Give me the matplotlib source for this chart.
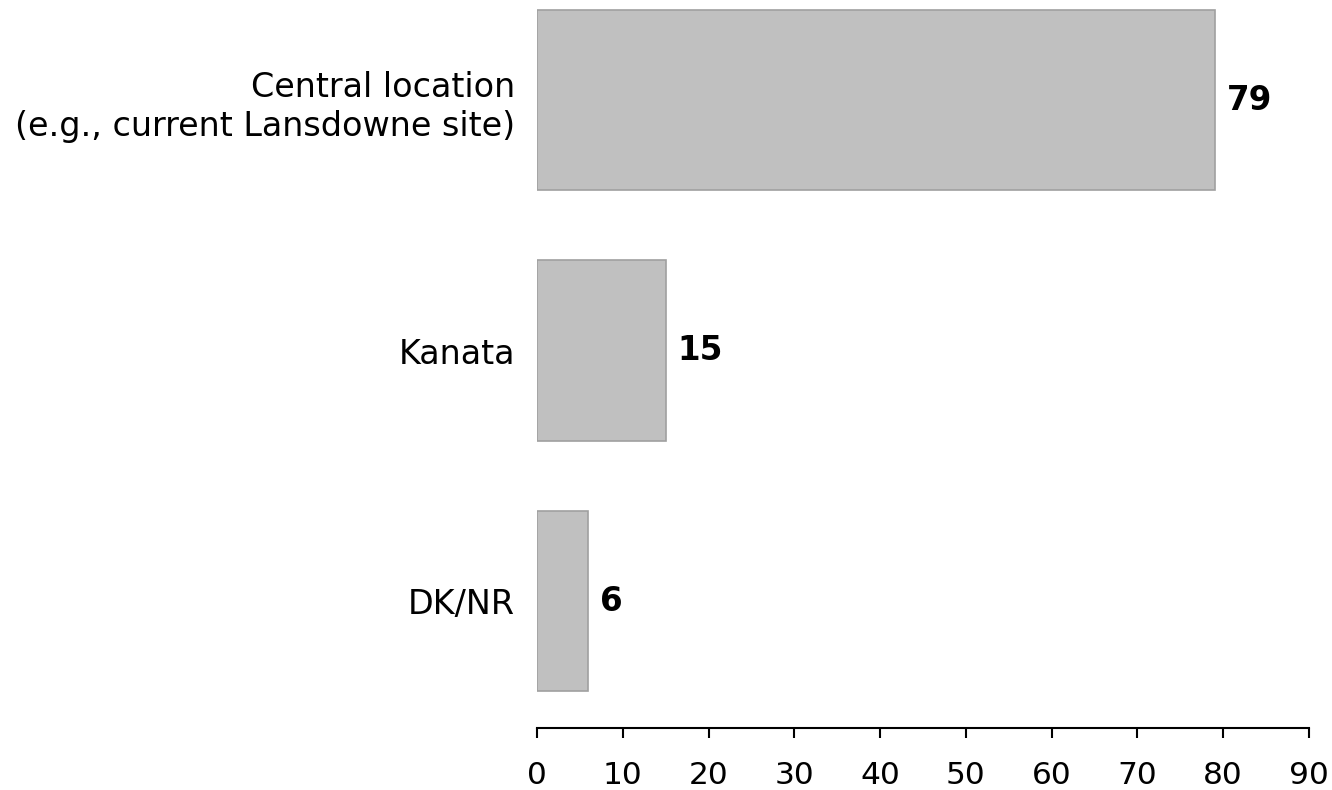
import matplotlib
matplotlib.use("Agg")
import matplotlib.pyplot as plt

categories = ["Central location\n(e.g., current Lansdowne site)", "Kanata", "DK/NR"]
values = [79, 15, 6]
xticks = [0, 10, 20, 30, 40, 50, 60, 70, 80, 90]

plt.rcParams['font.family'] = ['DejaVu Sans']

fig = plt.figure(figsize=(13.32, 7.9), dpi=100)
ax = fig.add_axes([537 / 1332, 62 / 790, 772 / 1332, 728 / 790])

pos = list(range(len(categories)))
ax.barh(pos, values, height=0.72, color="#c0c0c0", edgecolor="#a0a0a0", linewidth=1.2)

for p, v in zip(pos, values):
    ax.text(v + 1.4, p, str(v), va="center", ha="left", fontsize=23.5, fontweight="bold")

ax.set_xlim(0, 90)
ax.set_ylim(2.507, -0.4)
ax.set_xticks(xticks)
ax.set_yticks(pos)
labels = ax.set_yticklabels(categories, fontsize=24, ha="right", multialignment="right")
for lb in labels:
    lb.set_linespacing(1.25)
ax.tick_params(axis="y", length=0, pad=16)
ax.tick_params(axis="x", direction="out", length=7.5, width=1.5, labelsize=22.5, pad=16)

for s in ["top", "right", "left"]:
    ax.spines[s].set_visible(False)
ax.spines["bottom"].set_linewidth(1.5)

fig.savefig("out.png", dpi=100)
